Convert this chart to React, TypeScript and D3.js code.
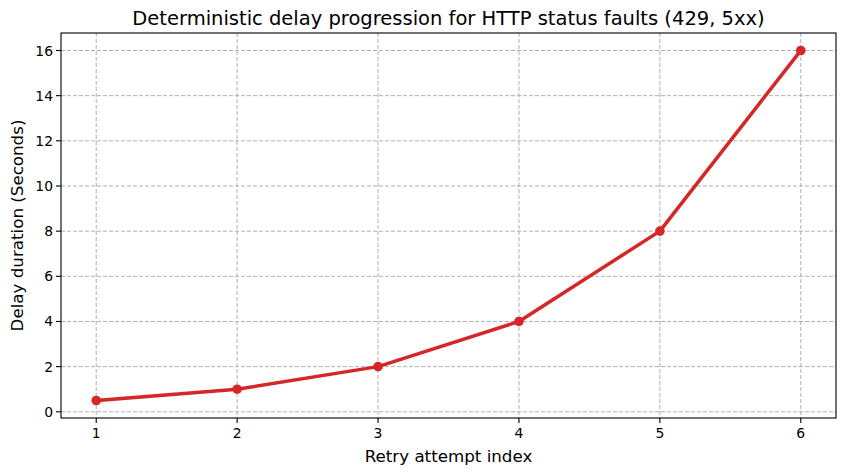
import React from "react";
import * as d3 from "d3";

const attempts = [1, 2, 3, 4, 5, 6];
const delays = [0.5, 1, 2, 4, 8, 16];
const yTicks = [0, 2, 4, 6, 8, 10, 12, 14, 16];

const W = 846, H = 475;
const left = 61, right = 836, top = 33, bottom = 418;

export default function App() {
  const x = d3.scaleLinear().domain([0.75, 6.25]).range([left, right]);
  const y = d3.scaleLinear().domain([-0.775 + 0.5, 16.775]).range([bottom, top]);
  const line = d3.line<number>().x((_, i) => x(attempts[i])).y((d) => y(d));
  const font = "DejaVu Sans, sans-serif";
  return (
    <svg width={W} height={H} style={{ position: "absolute", left: 0, top: 0, background: "#fff" }}>
      <rect x={0} y={0} width={W} height={H} fill="#fff" />
      <text x={(left + right) / 2} y={25} textAnchor="middle" fontFamily={font} fontSize={19.5} fill="#000">
        Deterministic delay progression for HTTP status faults (429, 5xx)
      </text>
      {attempts.map((t) => (
        <line key={"gx" + t} x1={x(t)} x2={x(t)} y1={top} y2={bottom} stroke="#b0b0b0" strokeWidth={1} strokeDasharray="4,2" />
      ))}
      {yTicks.map((t) => (
        <line key={"gy" + t} x1={left} x2={right} y1={y(t)} y2={y(t)} stroke="#b0b0b0" strokeWidth={1} strokeDasharray="4,2" />
      ))}
      <path d={line(delays) || ""} fill="none" stroke="#d62728" strokeWidth={3.5} strokeLinejoin="round" strokeLinecap="square" />
      {delays.map((d, i) => (
        <circle key={"p" + i} cx={x(attempts[i])} cy={y(d)} r={4.8} fill="#d62728" />
      ))}
      <rect x={left} y={top} width={right - left} height={bottom - top} fill="none" stroke="#000" strokeWidth={1.1} />
      {attempts.map((t) => (
        <g key={"tx" + t}>
          <line x1={x(t)} x2={x(t)} y1={bottom} y2={bottom + 5} stroke="#000" strokeWidth={1.1} />
          <text x={x(t)} y={bottom + 20} textAnchor="middle" fontFamily={font} fontSize={13.9} fill="#000">{t}</text>
        </g>
      ))}
      {yTicks.map((t) => (
        <g key={"ty" + t}>
          <line x1={left - 5} x2={left} y1={y(t)} y2={y(t)} stroke="#000" strokeWidth={1.1} />
          <text x={left - 8} y={y(t) + 5} textAnchor="end" fontFamily={font} fontSize={13.9} fill="#000">{t}</text>
        </g>
      ))}
      <text x={(left + right) / 2} y={462} textAnchor="middle" fontFamily={font} fontSize={16.7} fill="#000">
        Retry attempt index
      </text>
      <text transform={`translate(23,${(top + bottom) / 2}) rotate(-90)`} textAnchor="middle" fontFamily={font} fontSize={16.7} fill="#000">
        Delay duration (Seconds)
      </text>
    </svg>
  );
}
